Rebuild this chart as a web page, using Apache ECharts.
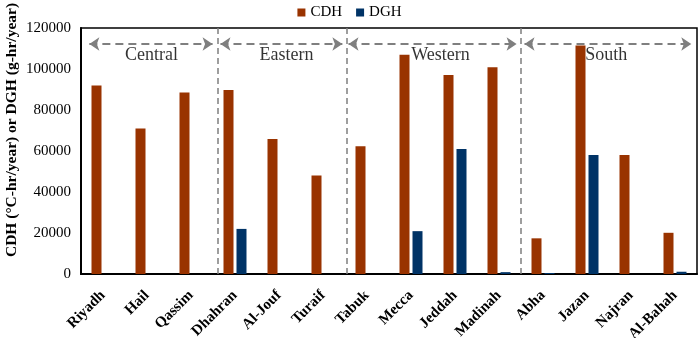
<!DOCTYPE html>
<html><head><meta charset="utf-8">
<script src="https://cdn.jsdelivr.net/npm/echarts@6/dist/echarts.min.js"></script>
<style>html,body{margin:0;padding:0;background:#fff}#c{width:699px;height:338px}</style>
</head><body><div id="c"></div>
<script>
const categories = ['Riyadh','Hail','Qassim','Dhahran','Al-Jouf','Turaif','Tabuk','Mecca','Jeddah','Madinah','Abha','Jazan','Najran','Al-Bahah'];
const cdh = [92000, 71000, 88500, 89800, 65800, 48100, 62300, 106900, 97100, 100900, 17400, 111500, 58100, 20100];
const dgh = [0, 0, 0, 22000, 0, 0, 0, 20900, 61000, 900, 500, 58100, 0, 1100];
const yTicks = [0, 20000, 40000, 60000, 80000, 100000, 120000];
const yName = 'CDH (°C-hr/year) or DGH (g-hr/year)';
const regionNames = ['Central','Eastern','Western','South'];
const regionStart = [0.19, 3.17, 6.08, 10.08];
const regionEnd = [2.99, 5.94, 9.9, 13.87];
const regionLabelAt = [1.6, 4.67, 8.17, 11.94];
const dividers = [3.1, 6.03, 10];
const arrowLevel = 112200;
const labelLevel = 106600;

const serif = 'Liberation Serif';
const chart = echarts.init(document.getElementById('c'));
const arrowLines = regionStart.map((s,i)=>[{coord:[s, arrowLevel]},{coord:[regionEnd[i], arrowLevel]}]);
const dividerLines = dividers.map(d=>[{coord:[d,0], symbol:'none'},{coord:[d,120000], symbol:'none'}]);
chart.setOption({
  animation:false,
  textStyle:{fontFamily:serif},
  legend:{data:['CDH','DGH'], top:0, left:'center', itemWidth:8, itemHeight:8, itemGap:14,
    textStyle:{fontFamily:serif, fontSize:15, color:'#000'}, icon:'rect'},
  grid:{left:81, right:2, top:28, bottom:64, show:true, borderColor:'#000', borderWidth:1.5,
    containLabel:false, outerBoundsMode:'none'},
  graphic:[{type:'text', x:12, y:130, rotation:Math.PI/2,
    style:{text:yName, font:'bold 15.5px "Liberation Serif"', fill:'#000', align:'center', verticalAlign:'middle'}}],
  xAxis:[{type:'category', data:categories,
    axisLine:{lineStyle:{color:'#000', width:2}}, axisTick:{show:false},
    axisLabel:{rotate:45, interval:0, fontFamily:serif, fontWeight:'bold', fontSize:15, color:'#000', margin:19}},
    {type:'value', min:0, max:14, show:false}],
  yAxis:{type:'value', min:yTicks[0], max:yTicks[yTicks.length-1], interval:yTicks[1]-yTicks[0],
    axisLine:{show:true, lineStyle:{color:'#000', width:2}}, axisTick:{show:false}, splitLine:{show:false},
    axisLabel:{fontFamily:serif, fontSize:15, color:'#000', margin:10, formatter:v=>String(v)}},
  series:[
    {name:'CDH', type:'bar', data:cdh, barWidth:10, barGap:'30%', itemStyle:{color:'#993300'}},
    {name:'DGH', type:'bar', data:dgh, barWidth:10, itemStyle:{color:'#003366'}},
    {name:'regions', type:'scatter', xAxisIndex:1, symbolSize:0,
      data:regionNames.map((n,i)=>[regionLabelAt[i], labelLevel, n]),
      label:{show:true, position:'inside', formatter:p=>p.value[2], fontFamily:serif, fontSize:18, color:'#000'},
      markLine:{silent:true, symbol:['arrow','arrow'], symbolSize:[10,10],
        lineStyle:{color:'#7f7f7f', type:[8,5], width:2}, label:{show:false},
        data:arrowLines}},
    {name:'div', type:'scatter', xAxisIndex:1, symbolSize:0, data:[[0,0]],
      markLine:{silent:true, symbol:'none', lineStyle:{color:'#7f7f7f', type:[6,4], width:1.5}, label:{show:false},
        data:dividerLines}}
  ]
});
</script></body></html>
